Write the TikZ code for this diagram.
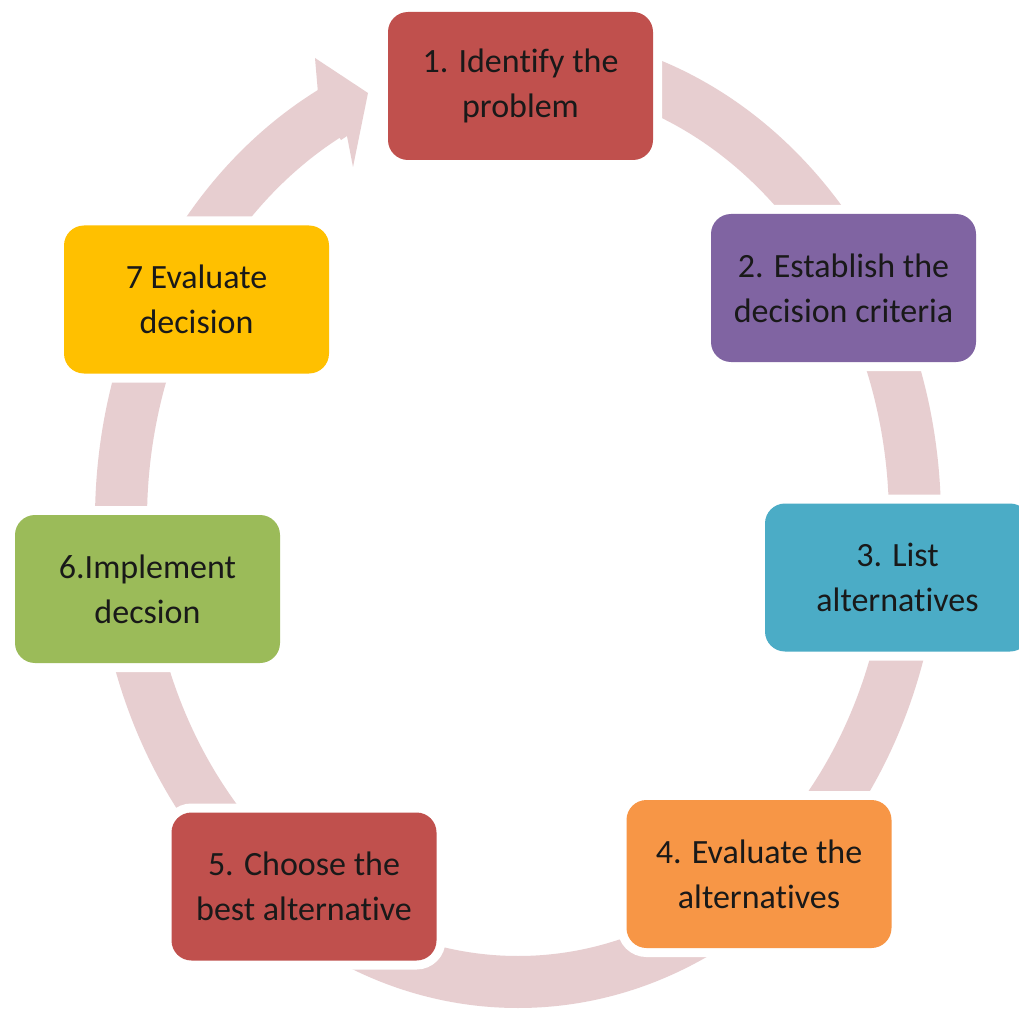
\documentclass[tikz,border=0pt]{standalone}
\usepackage{fontspec}
\setmainfont{Carlito}[Ligatures={NoCommon}]
\definecolor{ringc}{RGB}{231,206,208}
\definecolor{c1}{HTML}{C0504D}
\definecolor{c2}{HTML}{8064A2}
\definecolor{c3}{HTML}{4BACC6}
\definecolor{c4}{HTML}{F79646}
\definecolor{c5}{HTML}{C0504D}
\definecolor{c6}{HTML}{9BBB59}
\definecolor{c7}{HTML}{FFC000}
\tikzset{
  stepbox/.style={rounded corners=10pt, minimum width=132.5pt, minimum height=74pt,
    inner sep=0pt, align=center, text=black!90, font=\fontsize{17}{22.5}\selectfont,
    preaction={draw=white, line width=9pt}},
  ringline/.style={draw=ringc, line width=26pt}
}
\begin{document}
\begin{tikzpicture}[x=0.5pt,y=-0.5pt]
\useasboundingbox (0,0) rectangle (1019,1011);
\clip (0,0) rectangle (1019,1011);
\fill[white] (0,0) rectangle (1019,1011);
% ring
\coordinate (ctr) at (518,520);
\draw[ringline] (ctr) ++(270:397 and 462) arc[start angle=270, end angle=602.3, x radius=397, y radius=462];
% arrow head
\coordinate (hb1) at (318,93);
\coordinate (hu) at (315,58);
\coordinate (tip) at (368,93);
\coordinate (hl) at (353,167);
\coordinate (hb2) at (347,136);
\fill[ringc] (hb1) -- (hu) -- (tip) -- (hl) -- (hb2) -- ([shift={(-6,4)}]hb2) -- ([shift={(-6,4)}]hb1) -- cycle;
% boxes
\node[stepbox, fill=c1] (b1) at (520.5,86) {1. Identify the\\problem};
\node[stepbox, fill=c2] (b2) at (843.5,288) {2. Establish the\\decision criteria};
\node[stepbox, fill=c3] (b3) at (897.5,577.5) {3. List\\alternatives};
\node[stepbox, fill=c4] (b4) at (759,874) {4. Evaluate the\\alternatives};
\node[stepbox, fill=c5] (b5) at (304,886.5) {5. Choose the\\best alternative};
\node[stepbox, fill=c6] (b6) at (147.5,589) {6.Implement\\decsion};
\node[stepbox, fill=c7] (b7) at (196.5,299.5) {7 Evaluate\\decision};
\end{tikzpicture}
\end{document}
